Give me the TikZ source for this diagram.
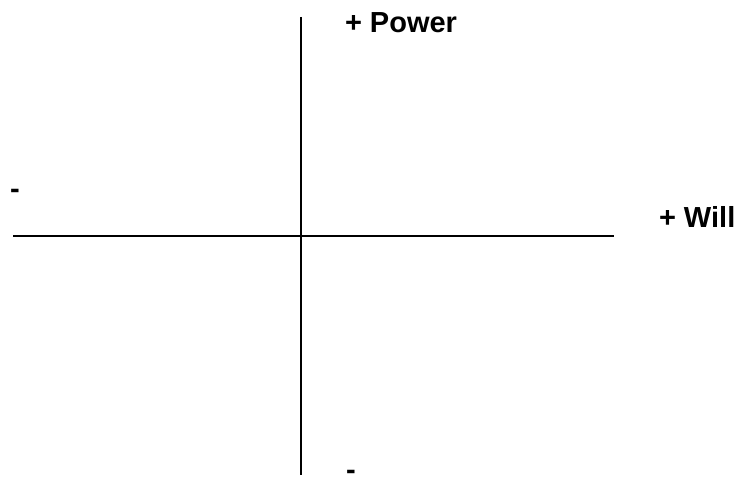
\documentclass[tikz,border=0pt]{standalone}
\usepackage{fontspec}
\setmainfont{Liberation Sans}
\begin{document}
\begin{tikzpicture}[x=1pt,y=1pt,
  axis/.style={line width=1.6pt,black},
  lbl/.style={anchor=base west,inner sep=0pt,outer sep=0pt,font=\fontsize{29}{34}\selectfont\bfseries}]
\useasboundingbox (0,0) rectangle (736,480);
\coordinate (vtop) at (301,463);
\coordinate (vbot) at (301,5);
\coordinate (hleft) at (13,244);
\coordinate (hright) at (614,244);
\draw[axis] (vtop) -- (vbot);
\draw[axis] (hleft) -- (hright);
\node[lbl] (power) at (345,447) {+ Power};
\node[lbl] (will) at (659,253) {+ Will};
\node[lbl] (minusleft) at (10,281) {-};
\node[lbl] (minusbot) at (346,0.5) {-};
\end{tikzpicture}
\end{document}
